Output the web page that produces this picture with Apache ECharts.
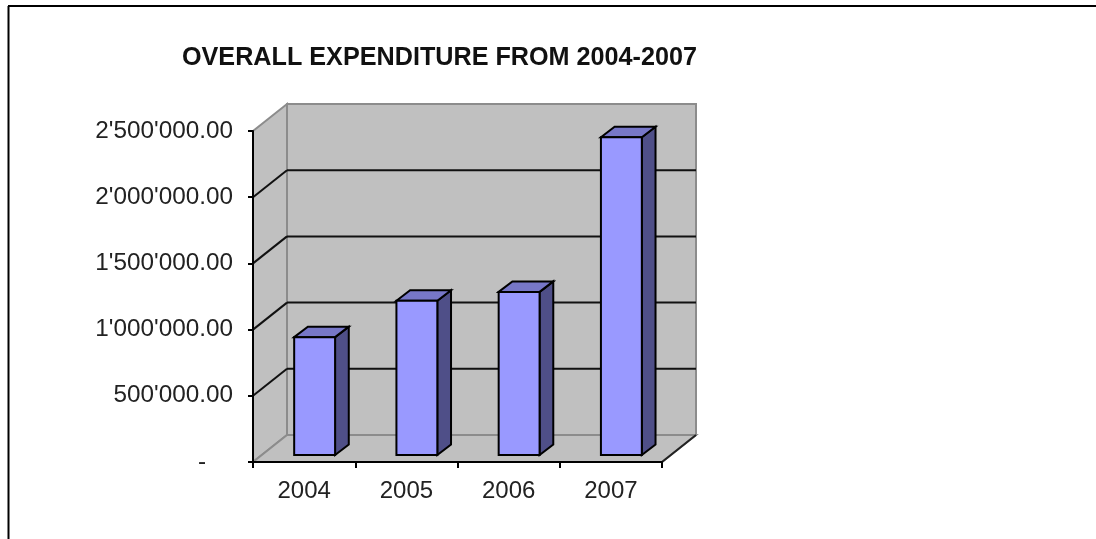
<!DOCTYPE html>
<html><head><meta charset="utf-8">
<style>html,body{margin:0;padding:0;background:#fff}#c{width:1096px;height:539px}</style>
<script src="https://cdn.jsdelivr.net/npm/echarts@6/dist/echarts.min.js"></script>
</head><body><div id="c"></div>
<script>
const chartTitle = 'OVERALL EXPENDITURE FROM 2004-2007';
const categories = ['2004', '2005', '2006', '2007'];
const expenditure = [890000, 1165000, 1232000, 2400000];
const valueTicks = [0, 500000, 1000000, 1500000, 2000000, 2500000];

const WALL_DX = 34, WALL_DY = -27;
const BAR_DX = 10.5, BAR_DY = -7, BAR_DEPTH_X = 13.7, BAR_DEPTH_Y = -10.5, BAR_RATIO = 0.4;
const FONT = '"Liberation Sans", Arial, sans-serif';

function fmt(v) {
  if (v === 0) return '-    ';
  return v.toFixed(2).replace(/\B(?=(\d{3})+(?!\d))(?=.*\.)/g, "'");
}
function poly(points, fill, stroke, lw) {
  return { type: 'polygon', shape: { points }, style: { fill, stroke, lineWidth: lw, lineJoin: 'miter' } };
}
function line(a, b, stroke, lw) {
  return { type: 'line', shape: { x1: a[0], y1: a[1], x2: b[0], y2: b[1] }, style: { stroke, lineWidth: lw, fill: null } };
}
function renderWalls(params, api) {
  const half = api.size([1, 0])[0] / 2;
  const v = api.value(0), i = params.dataIndex;
  const first = api.coord([0, v]); const last = api.coord([categories.length - 1, v]);
  const L = first[0] - half, R = last[0] + half, y = first[1];
  const ch = [];
  if (i === 0) {
    const top = api.coord([0, valueTicks[valueTicks.length - 1]])[1];
    const W = '#C0C0C0', G = '#8C8C8C';
    ch.push(poly([[L + WALL_DX, top + WALL_DY], [R + WALL_DX, top + WALL_DY], [R + WALL_DX, y + WALL_DY], [L + WALL_DX, y + WALL_DY]], W, G, 2));
    ch.push(poly([[L, top], [L + WALL_DX, top + WALL_DY], [L + WALL_DX, y + WALL_DY], [L, y]], W, G, 2));
    ch.push(poly([[L, y], [R, y], [R + WALL_DX, y + WALL_DY], [L + WALL_DX, y + WALL_DY]], W, G, 2));
    ch.push(line([R, y], [R + WALL_DX, y + WALL_DY], '#222', 2));
  } else if (i < valueTicks.length - 1) {
    ch.push(line([L, y], [L + WALL_DX, y + WALL_DY], '#111', 2));
    ch.push(line([L + WALL_DX, y + WALL_DY], [R + WALL_DX, y + WALL_DY], '#111', 2));
  }
  return { type: 'group', children: ch };
}
function renderBar(params, api) {
  const idx = api.value(0), val = api.value(1);
  const top = api.coord([idx, val]), base = api.coord([idx, 0]);
  const w = api.size([1, 0])[0] * BAR_RATIO;
  const x0 = top[0] - w / 2 + BAR_DX, x1 = x0 + w;
  const yT = top[1] + BAR_DY, yB = base[1] + BAR_DY;
  const dx = BAR_DEPTH_X, dy = BAR_DEPTH_Y, k = '#000';
  return { type: 'group', children: [
    poly([[x1, yT], [x1 + dx, yT + dy], [x1 + dx, yB + dy], [x1, yB]], '#4F4F88', k, 2),
    poly([[x0, yT], [x0 + dx, yT + dy], [x1 + dx, yT + dy], [x1, yT]], '#7777C8', k, 2),
    poly([[x0, yT], [x1, yT], [x1, yB], [x0, yB]], '#9999FF', k, 2)
  ] };
}
const chart = echarts.init(document.getElementById('c'), null, { renderer: 'canvas' });
chart.setOption({
  animation: false,
  backgroundColor: '#fff',
  title: { text: chartTitle, left: 434.5, textAlign: 'center', top: 41,
    textStyle: { fontFamily: FONT, fontSize: 25.2, fontWeight: 'bold', color: '#111' } },
  grid: { left: 253, width: 409, top: 131, height: 331 },
  xAxis: { type: 'category', data: categories, z: 6,
    axisLine: { lineStyle: { color: '#000', width: 2 } },
    axisTick: { show: true, alignWithLabel: false, length: 6, lineStyle: { color: '#000', width: 2 } },
    axisLabel: { fontFamily: FONT, fontSize: 24, color: '#222', margin: 17 } },
  yAxis: { type: 'value', min: 0, max: 2500000, interval: 500000, z: 6,
    axisLine: { show: true, lineStyle: { color: '#000', width: 2 } },
    axisTick: { show: true, length: 5, lineStyle: { color: '#000', width: 2 } },
    splitLine: { show: false },
    axisLabel: { fontFamily: FONT, fontSize: 24.3, color: '#222', margin: 20, padding: [0, 0, 4, 0], formatter: fmt } },
  series: [
    { type: 'custom', z: 1, silent: true, coordinateSystem: 'cartesian2d', renderItem: renderWalls,
      encode: { y: 0 }, data: valueTicks.map(v => [v]) },
    { type: 'custom', z: 2, silent: true, coordinateSystem: 'cartesian2d', renderItem: renderBar,
      encode: { x: 0, y: 1 }, data: expenditure.map((v, i) => [i, v]) }
  ],
  graphic: [
    { type: 'line', shape: { x1: 8.5, y1: 6, x2: 8.5, y2: 539 }, style: { stroke: '#000', lineWidth: 2 } },
    { type: 'line', shape: { x1: 8, y1: 6, x2: 1096, y2: 6 }, style: { stroke: '#000', lineWidth: 2 } }
  ]
});
</script></body></html>
